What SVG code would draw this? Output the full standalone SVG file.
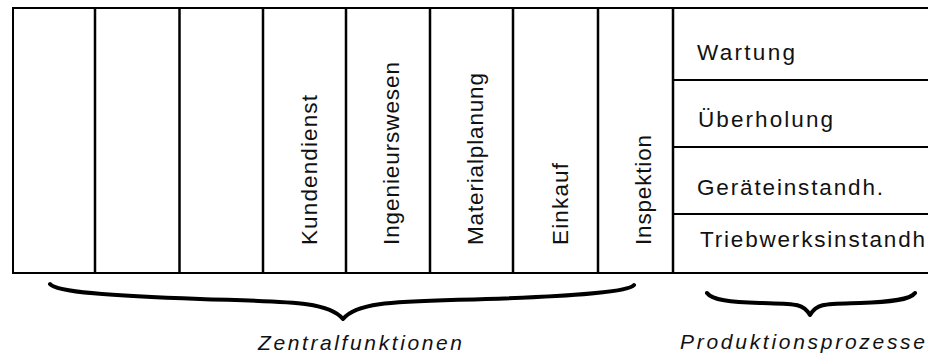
<svg xmlns="http://www.w3.org/2000/svg" width="928" height="355" viewBox="0 0 928 355">
<style>
.box{fill:#fff;stroke:#000;stroke-width:2}
.div{stroke:#000;stroke-width:2.5;fill:none}
.hdiv{stroke:#000;stroke-width:2;fill:none}
.t{font-family:"Liberation Sans",Arial,sans-serif;font-size:22.5px;fill:#111}
.it{font-family:"Liberation Sans",Arial,sans-serif;font-size:21px;font-style:italic;fill:#111}
.brace{fill:none;stroke:#000;stroke-width:4;stroke-linecap:round;stroke-linejoin:round}
</style>
<g id="frame">
<rect class="box" x="13" y="8" width="930" height="265"/>
</g>
<g id="connectors">
<line class="div" x1="95" y1="8" x2="95" y2="273"/>
<line class="div" x1="179.5" y1="8" x2="179.5" y2="273"/>
<line class="div" x1="263" y1="8" x2="263" y2="273"/>
<line class="div" x1="346" y1="8" x2="346" y2="273"/>
<line class="div" x1="430" y1="8" x2="430" y2="273"/>
<line class="div" x1="513" y1="8" x2="513" y2="273"/>
<line class="div" x1="598" y1="8" x2="598" y2="273"/>
<line class="div" x1="673" y1="8" x2="673" y2="273"/>
<line class="hdiv" x1="673" y1="80" x2="930" y2="80"/>
<line class="hdiv" x1="673" y1="147" x2="930" y2="147"/>
<line class="hdiv" x1="673" y1="214" x2="930" y2="214"/>
</g>
<g id="kundendienst"><text class="t" transform="translate(317,245) rotate(-90)" textLength="150" lengthAdjust="spacing">Kundendienst</text></g>
<g id="ingenieurswesen"><text class="t" transform="translate(399,245) rotate(-90)" textLength="183" lengthAdjust="spacing">Ingenieurswesen</text></g>
<g id="materialplanung"><text class="t" transform="translate(483,245) rotate(-90)" textLength="172" lengthAdjust="spacing">Materialplanung</text></g>
<g id="einkauf"><text class="t" transform="translate(568,245) rotate(-90)" textLength="82" lengthAdjust="spacing">Einkauf</text></g>
<g id="inspektion"><text class="t" transform="translate(651,245) rotate(-90)" textLength="110" lengthAdjust="spacing">Inspektion</text></g>
<g id="wartung"><text class="t" x="697" y="60" textLength="98" lengthAdjust="spacing">Wartung</text></g>
<g id="ueberholung"><text class="t" x="698" y="127" textLength="135" lengthAdjust="spacing">Überholung</text></g>
<g id="geraeteinstandh"><text class="t" x="697" y="195" textLength="186" lengthAdjust="spacing">Geräteinstandh.</text></g>
<g id="triebwerksinstandh"><text class="t" x="700" y="247" textLength="225" lengthAdjust="spacing">Triebwerksinstandh</text></g>
<g id="zentralfunktionen">
<path class="brace" d="M50,284 C56,292 110,296 200,299 C290,302 328,301 343,319 C358,301 396,302 486,299 C576,296 628,292 634,285"/>
<text class="it" x="258" y="350" textLength="204" lengthAdjust="spacing">Zentralfunktionen</text>
</g>
<g id="produktionsprozesse">
<path class="brace" d="M707,293 C712,300 730,302 760,303 C795,304 803,303 810,315 C817,303 825,304 860,303 C890,302 910,300 915,293"/>
<text class="it" x="680" y="349" textLength="245" lengthAdjust="spacing">Produktionsprozesse</text>
</g>
</svg>
